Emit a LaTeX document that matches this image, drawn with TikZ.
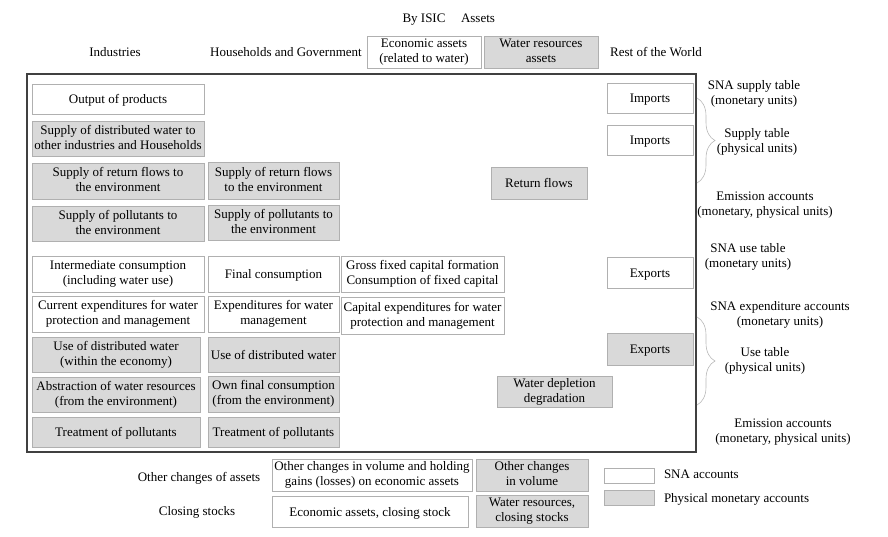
\documentclass[tikz,border=0pt]{standalone}
\usepackage{fontspec}
\setmainfont{Liberation Serif}
\usetikzlibrary{decorations.pathreplacing}
\definecolor{fillg}{HTML}{D9D9D9}
\definecolor{edgeg}{HTML}{B0B0B0}
\definecolor{frameg}{HTML}{404040}
\definecolor{braceg}{HTML}{B8B8B8}
\newcommand\tstrut{\rule[-3pt]{0pt}{15pt}}
\newcommand\bx[7]{\node[#2, anchor=north west, minimum width={(#5-#3)*1pt}, minimum height={(#6-#4)*1pt}] (#1) at (#3,#4) {#7};}
\begin{document}
\begin{tikzpicture}[x=1pt,y=-1pt,
  every node/.style={font=\fontsize{13}{15}\selectfont, align=center, inner sep=0pt, outer sep=0pt},
  wbox/.style={draw=edgeg, fill=white, line width=0.7pt, execute at begin node=\tstrut, execute at end node=\tstrut},
  gbox/.style={draw=edgeg, fill=fillg, line width=0.7pt, execute at begin node=\tstrut, execute at end node=\tstrut},
  framest/.style={draw=frameg, line width=1.6pt},
  lbl/.style={execute at begin node=\tstrut, execute at end node=\tstrut},
  bracest/.style={draw=braceg, line width=0.6pt, decorate, decoration={brace, amplitude=18pt}}]
\useasboundingbox (0,0) rectangle (888,536);
% header
\node[lbl] (byisic) at (424,18) {By ISIC};
\node[lbl] (assets) at (478,18) {Assets};
\node[lbl] (ind) at (115,52) {Industries};
\node[lbl] (hh) at (286,52) {Households and Government};
\bx{econ}{wbox}{367}{36}{481}{68}{Economic assets\\(related to water)}
\bx{wres}{gbox}{484}{36}{598}{68}{Water resources\\assets}
\node[lbl] (row) at (656,52) {Rest of the World};
% frame
\node[framest, anchor=north west, minimum width=669pt, minimum height=378pt] (frame) at (27,74) {};
% column 1 supply
\bx{out}{wbox}{32}{84}{204}{114}{Output of products}
\bx{sdw}{gbox}{32}{121}{204}{156}{Supply of distributed water to\\other industries and Households}
\bx{srf}{gbox}{32}{163}{204}{199}{Supply of return flows to\\the environment}
\bx{spo}{gbox}{32}{206}{204}{241}{Supply of pollutants to\\the environment}
\bx{srf2}{gbox}{208}{162}{339}{199}{Supply of return flows\\to the environment}
\bx{spo2}{gbox}{208}{205}{339}{240}{Supply of pollutants to\\the environment}
\bx{retf}{gbox}{491}{167}{587}{199}{Return flows}
\bx{imp1}{wbox}{607}{83}{693}{113}{Imports}
\bx{imp2}{wbox}{607}{125}{693}{155}{Imports}
% use
\bx{ic}{wbox}{32}{256}{204}{292}{Intermediate consumption\\(including water use)}
\bx{fc}{wbox}{208}{256}{339}{292}{Final consumption}
\bx{gfcf}{wbox}{341}{256}{504}{292}{Gross fixed capital formation\\Consumption of fixed capital}
\bx{ce}{wbox}{32}{296}{204}{332}{Current expenditures for water\\protection and management}
\bx{ewm}{wbox}{208}{296}{339}{332}{Expenditures for water\\management}
\bx{cap}{wbox}{341}{297}{504}{334}{Capital expenditures for water\\protection and management}
\bx{udw}{gbox}{32}{337}{200}{372}{Use of distributed water\\(within the economy)}
\bx{udw2}{gbox}{208}{337}{339}{372}{Use of distributed water}
\bx{abs}{gbox}{32}{377}{200}{412}{Abstraction of water resources\\(from the environment)}
\bx{own}{gbox}{208}{376}{339}{412}{Own final consumption\\(from the environment)}
\bx{tp}{gbox}{32}{417}{200}{447}{Treatment of pollutants}
\bx{tp2}{gbox}{208}{417}{339}{447}{Treatment of pollutants}
\bx{exp1}{wbox}{607}{257}{693}{288}{Exports}
\bx{exp2}{gbox}{607}{333}{693}{365}{Exports}
\bx{wdd}{gbox}{497}{376}{612}{407}{Water depletion\\degradation}
% right labels
\node[lbl] (snas) at (754,94) {SNA supply table\\(monetary units)};
\node[lbl] (supp) at (757,142) {Supply table\\(physical units)};
\node[lbl] (em1) at (765,205) {Emission accounts\\(monetary, physical units)};
\node[lbl] (snau) at (748,257) {SNA use table\\(monetary units)};
\node[lbl] (snae) at (780,315) {SNA expenditure accounts\\(monetary units)};
\node[lbl] (uset) at (765,361) {Use table\\(physical units)};
\node[lbl] (em2) at (783,432) {Emission accounts\\(monetary, physical units)};
\coordinate (b1t) at (697,98);
\coordinate (b1b) at (697,183);
\coordinate (b2t) at (697,317);
\coordinate (b2b) at (697,405);
\draw[bracest] (b1t) -- (b1b);
\draw[bracest] (b2t) -- (b2b);
% bottom
\node[lbl] (oca) at (199,477) {Other changes of assets};
\bx{ocv}{wbox}{272}{459}{472}{491}{Other changes in volume and holding\\gains (losses) on economic assets}
\bx{ocv2}{gbox}{476}{459}{588}{491}{Other changes\\in volume}
\node[lbl] (cs) at (197,511) {Closing stocks};
\bx{eacs}{wbox}{272}{496}{468}{527}{Economic assets, closing stock}
\bx{wrcs}{gbox}{476}{495}{588}{527}{Water resources,\\closing stocks}
% legend
\node[wbox, anchor=north west, minimum width=50pt, minimum height=14pt, execute at begin node={}, execute at end node={}] (legw) at (604,468) {};
\node[gbox, anchor=north west, minimum width=50pt, minimum height=14pt, execute at begin node={}, execute at end node={}] (legg) at (604,490) {};
\node[lbl, anchor=west] (legwt) at (664,474) {SNA accounts};
\node[lbl, anchor=west] (leggt) at (664,498) {Physical monetary accounts};
\end{tikzpicture}
\end{document}
